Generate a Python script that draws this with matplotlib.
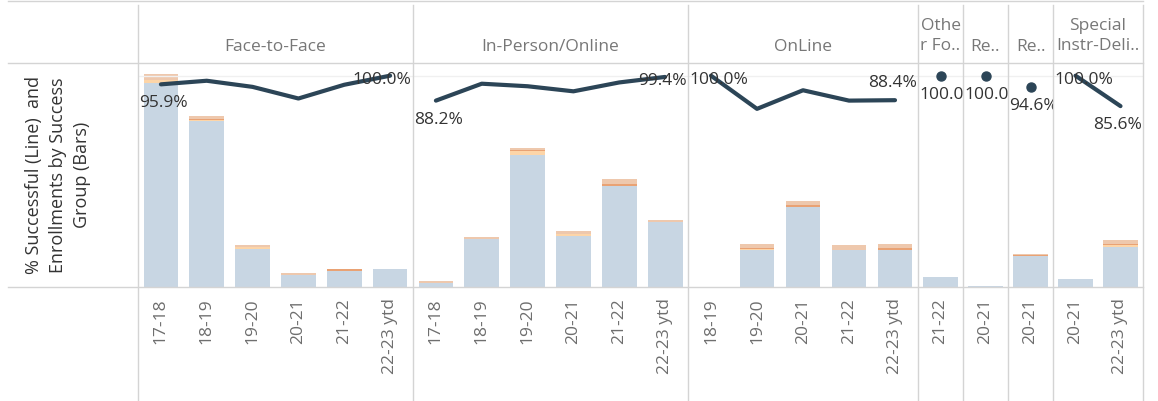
import numpy as np
import matplotlib
matplotlib.use('Agg')
import matplotlib.pyplot as plt
from matplotlib.lines import Line2D

plt.rcParams['font.family'] = ['Open Sans', 'DejaVu Sans']

# panels (delivery mode) and their school years
panels = ['Face-to-Face', 'In-Person/Online', 'OnLine', 'Othe\nr Fo..', 'Re..', 'Re..', 'Special\nInstr-Deli..']
years = [
    ['17-18', '18-19', '19-20', '20-21', '21-22', '22-23 ytd'],
    ['17-18', '18-19', '19-20', '20-21', '21-22', '22-23 ytd'],
    ['18-19', '19-20', '20-21', '21-22', '22-23 ytd'],
    ['21-22'],
    ['20-21'],
    ['20-21'],
    ['20-21', '22-23 ytd'],
]

# enrollments by success group (stacked bars)
successful = [
    [956, 778, 177, 55, 74, 83],
    [17, 224, 617, 238, 473, 303],
    [0, 173, 375, 173, 175],
    [45],
    [3],
    [145],
    [36, 186],
]
group2 = [
    [16, 6, 9, 0, 0, 0],
    [0, 0, 20, 9, 0, 0],
    [0, 6, 0, 0, 0],
    [0],
    [0],
    [0],
    [0, 12],
]
group3 = [
    [0, 3, 0, 0, 9, 0],
    [4, 3, 3, 0, 8, 4],
    [0, 5, 8, 0, 6],
    [0],
    [0],
    [6],
    [0, 3],
]
group4 = [
    [25, 14, 9, 9, 0, 0],
    [5, 6, 11, 14, 23, 5],
    [0, 19, 19, 22, 19],
    [0],
    [0],
    [6],
    [0, 17],
]

# % successful (line)
pct_success = [
    [95.9, 97.6, 94.7, 89.2, 95.7, 100.0],
    [88.2, 96.2, 95.0, 92.6, 96.8, 99.4],
    [100.0, 84.3, 93.1, 88.2, 88.4],
    [100.0],
    [100.0],
    [94.6],
    [100.0, 85.6],
]

first_lab = ['below', 'below', 'center', 'below', 'below', 'below', 'center']
last_lab = ['center', 'center', 'above', None, None, None, 'below']

W, H = 1158, 401
fig = plt.figure(figsize=(W / 100, H / 100), dpi=100)

def fx(px):
    return px / W

def fy(py):
    return 1 - py / H

edges = [138, 413, 688, 918, 963, 1008, 1053, 1143]
top, base = 63, 287

grid = '#d4d4d4'
blue = '#c8d6e3'
c2 = '#fdd5a8'
c3 = '#e9a274'
c4 = '#eec8ad'
linec = '#2c4557'
tickc = '#6e6e6e'

off = {'below': -19, 'center': -4, 'above': 17}

for i, name in enumerate(panels):
    x0, x1 = edges[i], edges[i + 1]
    ax = fig.add_axes([fx(x0), fy(base), fx(x1 - x0), (base - top) / H])
    n = len(years[i])
    idx = np.arange(n)
    b1 = np.array(successful[i])
    b2 = np.array(group2[i])
    b3 = np.array(group3[i])
    b4 = np.array(group4[i])
    ax.bar(idx, b1, width=0.76, color=blue)
    ax.bar(idx, b2, bottom=b1, width=0.76, color=c2)
    ax.bar(idx, b3, bottom=b1 + b2, width=0.76, color=c3)
    ax.bar(idx, b4, bottom=b1 + b2 + b3, width=0.76, color=c4)
    ax.set_xlim(-0.5, n - 0.5)
    ax.set_ylim(0, 1050)
    ax.set_yticks([])
    ax.set_xticks(idx)
    ax.set_xticklabels(years[i], rotation=90, color=tickc, fontsize=12.5)
    ax.tick_params(axis='x', length=0, pad=8)
    for s in ax.spines.values():
        s.set_visible(False)

    ax2 = ax.twinx()
    ax2.set_ylim(0, 106)
    ax2.set_yticks([])
    for s in ax2.spines.values():
        s.set_visible(False)
    ax2.axhline(100, color='#f0f0f0', lw=1, zorder=0)
    vals = pct_success[i]
    if n == 1:
        ax2.plot(idx, vals, 'o', color=linec, ms=6.5)
    else:
        ax2.plot(idx, vals, color=linec, lw=3, solid_capstyle='round', solid_joinstyle='round')

    t = ax2.annotate('%.1f%%' % vals[0], xy=(0, vals[0]), xycoords=ax2.get_yaxis_transform(),
                     xytext=(1, off[first_lab[i]] * 0.72), textcoords='offset points',
                     ha='left', va='center', fontsize=12.5, color='#333333', annotation_clip=False)
    t.set_clip_path(ax2.patch)
    if last_lab[i] is not None:
        t = ax2.annotate('%.1f%%' % vals[-1], xy=(1, vals[-1]), xycoords=ax2.get_yaxis_transform(),
                         xytext=(-1, off[last_lab[i]] * 0.72), textcoords='offset points',
                         ha='right', va='center', fontsize=12.5, color='#333333', annotation_clip=False)
        t.set_clip_path(ax2.patch)

    # panel header
    two = '\n' in name
    fig.text(fx((x0 + x1) / 2), fy(36 if two else 47), name, ha='center', va='center',
             fontsize=12.5, color='#777777', linespacing=1.35)

# borders
def hline(y, xa, xb):
    fig.add_artist(Line2D([fx(xa), fx(xb)], [fy(y), fy(y)], color=grid, lw=1))

def vline(x, ya, yb):
    fig.add_artist(Line2D([fx(x), fx(x)], [fy(ya), fy(yb)], color=grid, lw=1))

hline(1, 8, 1143)
hline(top, 8, 1143)
hline(base, 8, 1143)
for e in edges:
    vline(e, 5, 401)

fig.text(fx(58), fy(175), '% Successful (Line)  and\nEnrollments by Success\nGroup (Bars)',
         rotation=90, ha='center', va='center', fontsize=13, color='#333333', linespacing=1.45)

fig.savefig('out.png', dpi=100)
